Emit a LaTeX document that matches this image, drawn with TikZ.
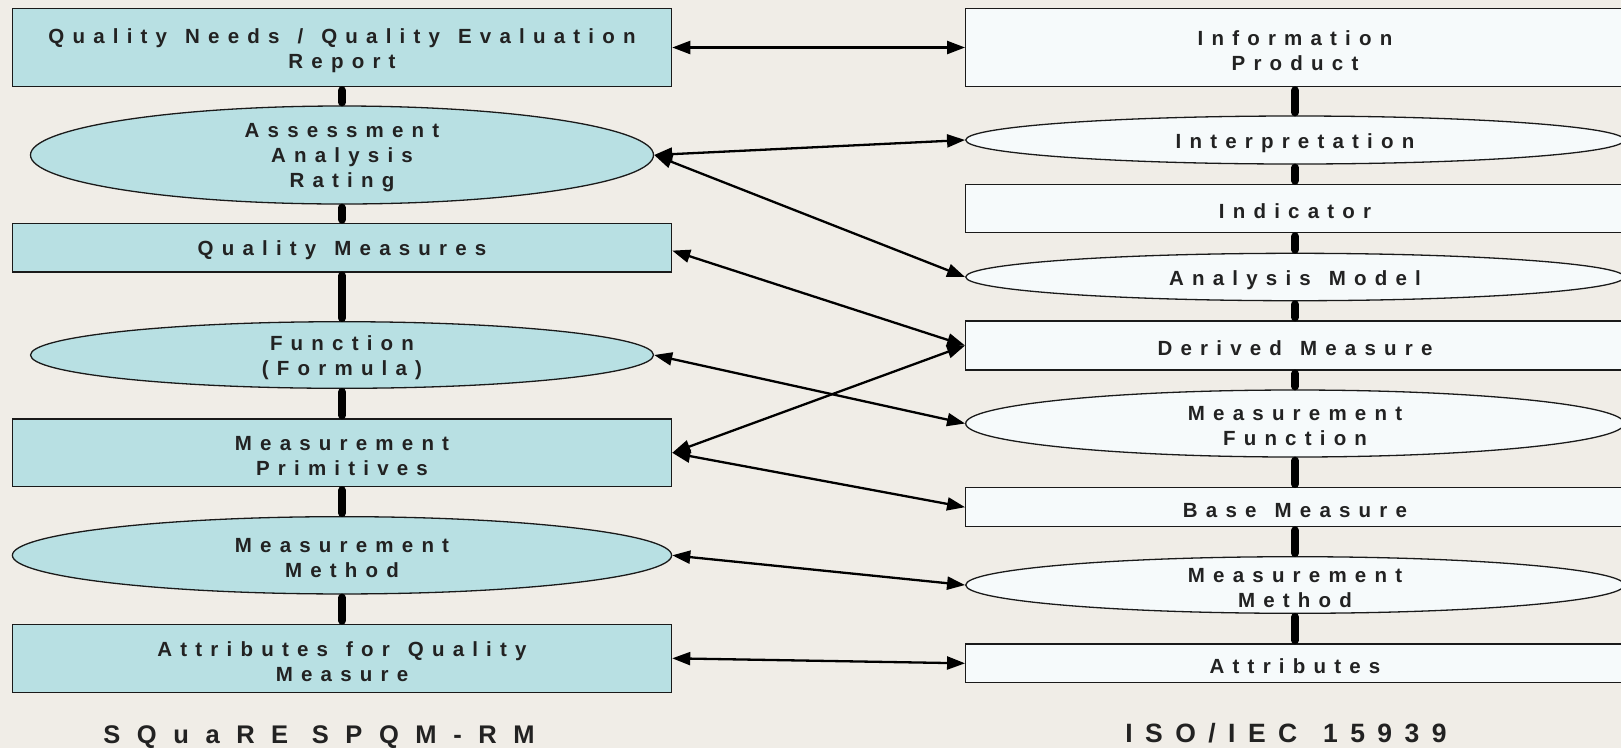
\documentclass[tikz,border=0pt]{standalone}
\usepackage{fontspec}
\setmainfont{Liberation Sans}
\newfontfamily\lblfont[LetterSpace=40, WordSpace=1.3]{Liberation Sans}
\newfontfamily\capfontL[LetterSpace=65]{Liberation Sans}
\newfontfamily\capfontR[LetterSpace=47, WordSpace=1.3]{Liberation Sans}
\usetikzlibrary{shapes.geometric,arrows.meta}

\definecolor{bg}{HTML}{F0EDE7}
\definecolor{leftfill}{HTML}{B8E0E3}
\definecolor{rightfill}{HTML}{F6FAFB}
\definecolor{ink}{HTML}{222222}
\definecolor{edge}{HTML}{1A1A1A}

\tikzset{
  txt/.style={font=\fontsize{20.5}{25}\lblfont\bfseries, text=ink, align=center, inner sep=0pt, yshift=-3pt},
  shapeline/.style={draw=edge, line width=1.3pt, inner sep=0pt},
  lbox/.style={shapeline, fill=leftfill, rectangle, minimum width=659.2pt},
  rbox/.style={shapeline, fill=rightfill, rectangle, minimum width=658.6pt},
  lell/.style={shapeline, fill=leftfill, ellipse},
  rell/.style={shapeline, fill=rightfill, ellipse, minimum width=658.6pt},
  bar/.style={line width=8pt, line cap=round, shorten <=3pt, shorten >=3pt, black},
  link/.style={line width=2.3pt, black,
    {Triangle[length=18pt,width=13pt]}-{Triangle[length=18pt,width=13pt]}},
  caption/.style={text=ink, inner sep=0pt, anchor=base}
}

\begin{document}
\begin{tikzpicture}[x=1pt,y=-1pt]
  \useasboundingbox (0,0) rectangle (1621,748);
  \fill[bg] (0,0) rectangle (1621,748);

  % SQuaRE column
  \node[lbox, minimum height=78.4pt, label={[txt]center:{Quality Needs / Quality Evaluation\\Report}}] (qn) at (342,47.5) {};
  \node[lell, minimum width=623pt, minimum height=98pt, label={[txt]center:{Assessment\\Analysis\\Rating}}] (aar) at (342,155) {};
  \node[lbox, minimum height=48.7pt, label={[txt]center:{Quality Measures}}] (qm) at (342,247.6) {};
  \node[lell, minimum width=623pt, minimum height=66.6pt, label={[txt]center:{Function\\(Formula)}}] (fn) at (342,355) {};
  \node[lbox, minimum height=67.7pt, label={[txt]center:{Measurement\\Primitives}}] (mp) at (342,452.8) {};
  \node[lell, minimum width=659.2pt, minimum height=77.3pt, label={[txt]center:{Measurement\\Method}}] (mml) at (342,555.3) {};
  \node[lbox, minimum height=68pt, label={[txt]center:{Attributes for Quality\\Measure}}] (aq) at (342,658.3) {};

  % ISO/IEC 15939 column
  \node[rbox, minimum height=78.4pt, label={[txt]center:{Information\\Product}}] (ip) at (1295,47.5) {};
  \node[rell, minimum height=48pt, label={[txt]center:{Interpretation}}] (ipr) at (1295,140) {};
  \node[rbox, minimum height=48.4pt, label={[txt]center:{Indicator}}] (ind) at (1295,208.5) {};
  \node[rell, minimum height=47.4pt, label={[txt]center:{Analysis Model}}] (am) at (1295,277) {};
  \node[rbox, minimum height=49pt, label={[txt]center:{Derived Measure}}] (dm) at (1295,345.5) {};
  \node[rell, minimum height=67pt, label={[txt]center:{Measurement\\Function}}] (mf) at (1295,423.5) {};
  \node[rbox, minimum height=39pt, label={[txt]center:{Base Measure}}] (bm) at (1295,507.2) {};
  \node[rell, minimum height=56.6pt, label={[txt]center:{Measurement\\Method}}] (mmr) at (1295,585) {};
  \node[rbox, minimum height=38.7pt, label={[txt]center:{Attributes}}] (at) at (1295,663.3) {};

  % vertical links inside each column
  \draw[bar] (qn.south) -- (aar.north);
  \draw[bar] (aar.south) -- (qm.north);
  \draw[bar] (qm.south) -- (fn.north);
  \draw[bar] (fn.south) -- (mp.north);
  \draw[bar] (mp.south) -- (mml.north);
  \draw[bar] (mml.south) -- (aq.north);

  \draw[bar] (ip.south) -- (ipr.north);
  \draw[bar] (ipr.south) -- (ind.north);
  \draw[bar] (ind.south) -- (am.north);
  \draw[bar] (am.south) -- (dm.north);
  \draw[bar] (dm.south) -- (mf.north);
  \draw[bar] (mf.south) -- (bm.north);
  \draw[bar] (bm.south) -- (mmr.north);
  \draw[bar] (mmr.south) -- (at.north);

  % correspondences between the two models
  \draw[link] (qn.east) -- (ip.west);
  \draw[link] (aar.east) -- (ipr.west);
  \draw[link] (aar.east) -- (am.west);
  \draw[link] ([yshift=-3pt]qm.east) -- (dm.west);
  \draw[link] (fn.east) -- (mf.west);
  \draw[link] (mp.east) -- (dm.west);
  \draw[link] (mp.east) -- (bm.west);
  \draw[link] (mml.east) -- (mmr.west);
  \draw[link] (aq.east) -- (at.west);

  % column captions
  \node[caption, font=\fontsize{25.5}{30}\capfontL\bfseries] (capl) at (319,743) {SQuaRE SPQM-RM};
  \node[caption, font=\fontsize{26.5}{30}\capfontR\bfseries] (capr) at (1286,742) {ISO/IEC 15939};
\end{tikzpicture}
\end{document}
